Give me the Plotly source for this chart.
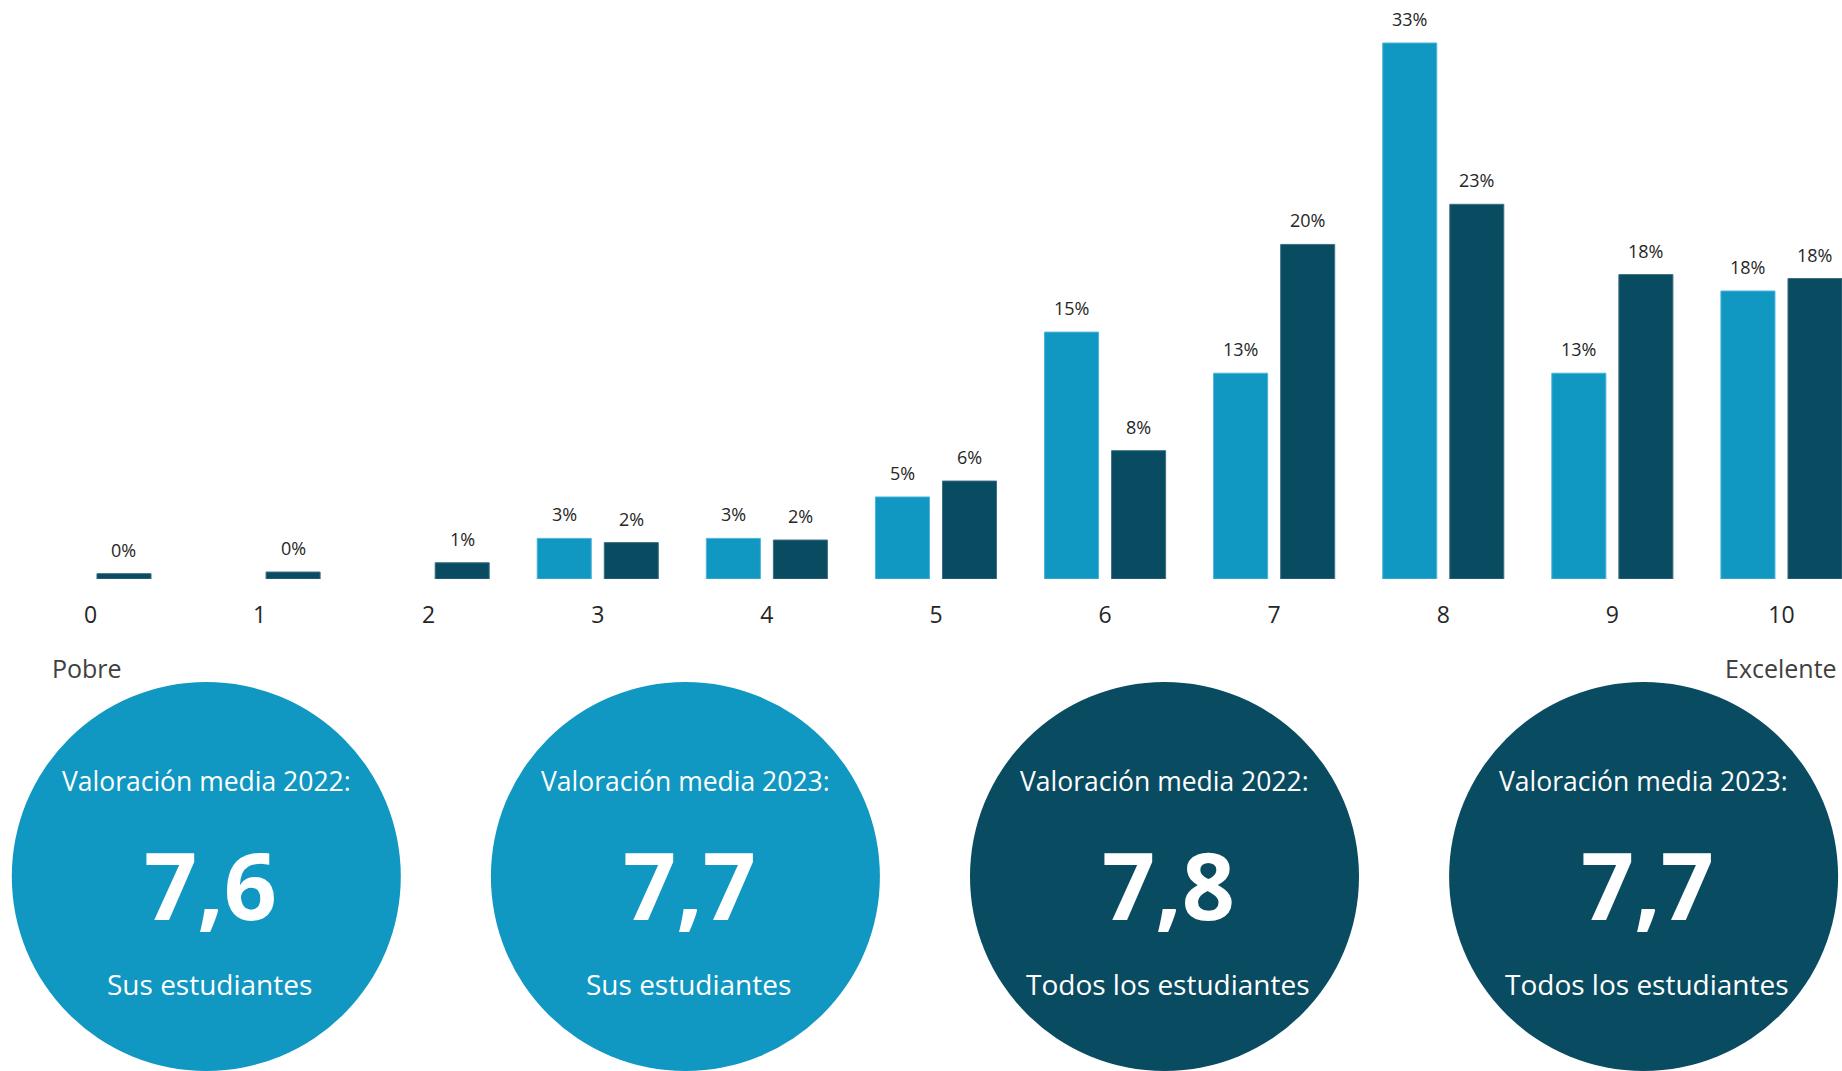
import plotly.graph_objects as go

# rating scale 0..10
scores = list(range(11))
sus_estudiantes = [None, None, None, 2.5, 2.5, 5.05, 15.2, 12.67, 33.0, 12.67, 17.73]
todos_estudiantes = [0.33, 0.43, 1.0, 2.24, 2.4, 6.03, 7.9, 20.6, 23.07, 18.74, 18.5]
labels_sus = ["", "", "", "3%", "3%", "5%", "15%", "13%", "33%", "13%", "18%"]
labels_todos = ["0%", "0%", "1%", "2%", "2%", "6%", "8%", "20%", "23%", "18%", "18%"]

# average-rating bubbles
kpi_years = ["2022", "2023", "2022", "2023"]
kpi_values = [7.6, 7.7, 7.8, 7.7]
kpi_groups = ["Sus estudiantes", "Sus estudiantes", "Todos los estudiantes", "Todos los estudiantes"]

LIGHT = "#1097C2"
DARK = "#094B61"
FONT = "Open Sans"
W, H = 1842, 1071

fig = go.Figure()
fig.add_trace(go.Bar(x=scores, y=sus_estudiantes, name="Sus estudiantes",
                     marker=dict(color=LIGHT, line=dict(color="#4CB4D8", width=1))))
fig.add_trace(go.Bar(x=scores, y=todos_estudiantes, name="Todos los estudiantes",
                     marker=dict(color=DARK, line=dict(color="#3C7084", width=1))))

annotations = []
# data labels above bars
for vals, labs, shift in [(sus_estudiantes, labels_sus, -33.5), (todos_estudiantes, labels_todos, 33.5)]:
    for s, v, t in zip(scores, vals, labs):
        if v is None or t == "":
            continue
        annotations.append(dict(x=s, y=v, xref="x", yref="y", text=t, showarrow=False,
                                xshift=shift, yshift=10, xanchor="center", yanchor="bottom",
                                font=dict(family=FONT, size=18, color="#262626")))

annotations.append(dict(x=50 / W, y=1 - 668 / H, xref="paper", yref="paper", text="Pobre",
                        showarrow=False, xanchor="left", yanchor="middle",
                        font=dict(family=FONT, size=25, color="#404040")))
annotations.append(dict(x=1839 / W, y=1 - 668 / H, xref="paper", yref="paper", text="Excelente",
                        showarrow=False, xanchor="right", yanchor="middle",
                        font=dict(family=FONT, size=25, color="#404040")))

shapes = []
r = 194.5
cy = 876.5
for i, (yr, val, grp) in enumerate(zip(kpi_years, kpi_values, kpi_groups)):
    cx = 206.3 + i * 479.1
    col = LIGHT if i < 2 else DARK
    shapes.append(dict(type="circle", xref="paper", yref="paper",
                       x0=(cx - r) / W, x1=(cx + r) / W, y0=1 - (cy + r) / H, y1=1 - (cy - r) / H,
                       fillcolor=col, line=dict(width=0), layer="below"))
    annotations.append(dict(x=cx / W, y=1 - 781 / H, xref="paper", yref="paper",
                            text=f"Valoración media {yr}:", showarrow=False,
                            xanchor="center", yanchor="middle",
                            font=dict(family=FONT, size=26.5, color="white")))
    annotations.append(dict(x=(cx + 4) / W, y=1 - 884 / H, xref="paper", yref="paper",
                            text=f"<b>{val:.1f}</b>".replace(".", ","), showarrow=False,
                            xanchor="center", yanchor="middle",
                            font=dict(family=FONT, size=93, color="white")))
    annotations.append(dict(x=(cx + 3) / W, y=1 - 984 / H, xref="paper", yref="paper",
                            text=grp, showarrow=False,
                            xanchor="center", yanchor="middle",
                            font=dict(family=FONT, size=28, color="white")))

px_per_pct = 536 / 33.0
base_y = 579

fig.update_layout(
    width=W, height=H,
    margin=dict(l=0, r=0, t=0, b=0),
    paper_bgcolor="white", plot_bgcolor="white",
    barmode="group", bargap=0.207, bargroupgap=0.194,
    showlegend=False,
    xaxis=dict(range=[-0.535, 10.358], tickvals=scores, ticktext=[str(s) for s in scores],
               showgrid=False, zeroline=False, showline=False, ticks="",
               ticklabelstandoff=20,
               tickfont=dict(family=FONT, size=23, color="#262626")),
    yaxis=dict(domain=[1 - base_y / H, 1], range=[0, base_y / px_per_pct],
               visible=False, showgrid=False, zeroline=False),
    shapes=shapes,
    annotations=annotations,
)

fig.write_html("out.html", config={"displayModeBar": False},
               post_script="document.body.style.margin='0';")
